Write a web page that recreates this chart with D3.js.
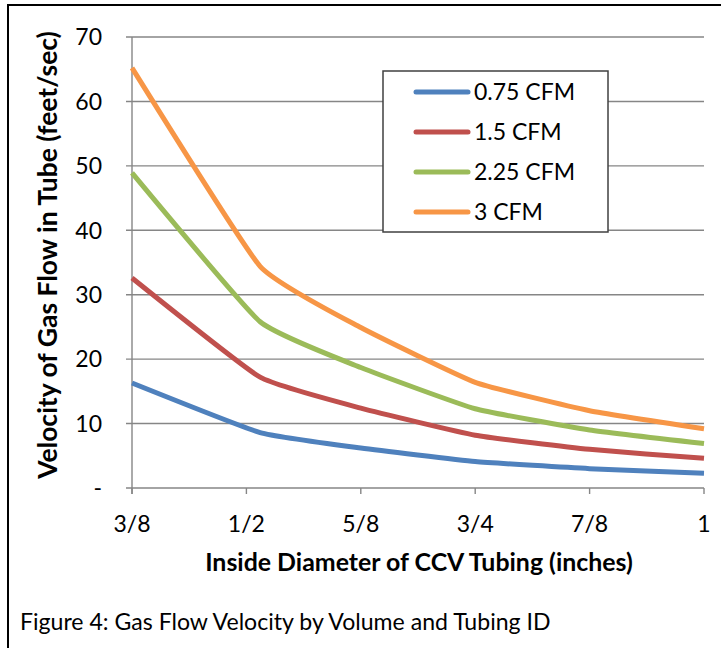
<!DOCTYPE html>
<html><head><meta charset="utf-8">
<script src="https://cdn.jsdelivr.net/npm/d3@7"></script>
<style>body{margin:0;background:#fff} svg{display:block}</style>
</head><body><svg id="c" width="721" height="648"></svg>
<script>
// ---- data ----
const diameters = [0.375, 0.515, 0.625, 0.75, 0.875, 1.0];
const seriesNames = ["0.75 CFM", "1.5 CFM", "2.25 CFM", "3 CFM"];
const cfm075 = [16.3, 8.6, 6.2, 4.1, 3.0, 2.3];
const cfm15  = [32.6, 17.2, 12.4, 8.2, 6.0, 4.6];
const cfm225 = [48.9, 25.8, 18.7, 12.3, 9.0, 6.9];
const cfm3   = [65.2, 34.4, 24.9, 16.4, 12.0, 9.2];
const xTickValues = [0.375, 0.5, 0.625, 0.75, 0.875, 1.0];
const xTickLabels = ["3/8", "1/2", "5/8", "3/4", "7/8", "1"];
const yTickValues = [0, 10, 20, 30, 40, 50, 60, 70];
const yTickLabels = ["-", "10", "20", "30", "40", "50", "60", "70"];
const colors = ["#4F81BD", "#C0504D", "#9BBB59", "#F79646"];
const xTitle = "Inside Diameter of CCV Tubing (inches)";
const yTitle = "Velocity of Gas Flow in Tube (feet/sec)";
const caption = "Figure 4: Gas Flow Velocity by Volume and Tubing ID";

const seriesValues = [cfm075, cfm15, cfm225, cfm3];
const series = seriesNames.map((n, i) => ({name: n, color: colors[i],
  pts: diameters.map((d, j) => ({d: d, v: seriesValues[i][j]}))}));

const FONT = "Lato, 'Open Sans', sans-serif";
const svg = d3.select("#c");
const W = 721, H = 648;

// outer frame
svg.append("rect").attr("x", 8).attr("y", 5).attr("width", W + 10).attr("height", H + 10)
  .attr("fill", "none").attr("stroke", "#000").attr("stroke-width", 2);

const x = d3.scaleLinear().domain([0.375, 1.0]).range([132, 704]);
const y = d3.scaleLinear().domain([0, 70]).range([488, 37]);

const gridColor = "#868686";
// gridlines
svg.append("g").selectAll("line").data(yTickValues).join("line")
  .attr("x1", 126).attr("x2", x(1.0))
  .attr("y1", d => y(d)).attr("y2", d => y(d))
  .attr("stroke", gridColor).attr("stroke-width", 1.4);

// y axis line
svg.append("line").attr("x1", x(0.375)).attr("x2", x(0.375))
  .attr("y1", y(70)).attr("y2", y(0) + 6).attr("stroke", gridColor).attr("stroke-width", 1.4);

// x ticks
svg.append("g").selectAll("line").data(xTickValues).join("line")
  .attr("x1", d => x(d)).attr("x2", d => x(d))
  .attr("y1", y(0)).attr("y2", y(0) + 6)
  .attr("stroke", gridColor).attr("stroke-width", 1.4);

// y tick labels
svg.append("g").selectAll("text").data(yTickValues).join("text")
  .attr("x", 102).attr("y", d => y(d)).attr("dy", "0.36em")
  .attr("text-anchor", "end").attr("font-family", FONT).attr("font-size", 23)
  .attr("fill", "#000").text((d, i) => yTickLabels[i]);

// x tick labels
svg.append("g").selectAll("text").data(xTickValues).join("text")
  .attr("x", d => x(d)).attr("y", 532)
  .attr("text-anchor", "middle").attr("font-family", FONT).attr("font-size", 23)
  .attr("fill", "#000").text((d, i) => xTickLabels[i]);

function fit(sel, target) {
  const len = sel.node().getComputedTextLength();
  const fs = parseFloat(sel.attr("font-size"));
  sel.attr("font-size", fs * target / len);
}

// axis titles
const xt = svg.append("text").attr("x", 419).attr("y", 571)
  .attr("text-anchor", "middle").attr("font-family", FONT).attr("font-weight", "bold")
  .attr("font-size", 20).text(xTitle);
fit(xt, 428);

const yt = svg.append("text").attr("transform", "translate(57,255) rotate(-90)")
  .attr("text-anchor", "middle").attr("font-family", FONT).attr("font-weight", "bold")
  .attr("font-size", 20).text(yTitle);
fit(yt, 448);

const cap = svg.append("text").attr("x", 20).attr("y", 630)
  .attr("font-family", FONT).attr("font-size", 20).text(caption);
fit(cap, 531);

// lines
const line = d3.line().x(p => x(p.d)).y(p => y(p.v)).curve(d3.curveCardinal.tension(0.6));
svg.append("g").selectAll("path").data(series).join("path")
  .attr("d", s => line(s.pts)).attr("fill", "none")
  .attr("stroke", s => s.color).attr("stroke-width", 5)
  .attr("stroke-linejoin", "round");

// legend
const lg = svg.append("g");
lg.append("rect").attr("x", 383).attr("y", 71).attr("width", 225).attr("height", 161)
  .attr("fill", "#fff").attr("stroke", "#404040").attr("stroke-width", 1.5);
const rows = lg.selectAll("g").data(series).join("g")
  .attr("transform", (s, i) => `translate(0,${92 + i * 40})`);
rows.append("line").attr("x1", 416).attr("x2", 468).attr("y1", 0).attr("y2", 0)
  .attr("stroke", s => s.color).attr("stroke-width", 5).attr("stroke-linecap", "round");
rows.append("text").attr("x", 474).attr("y", 0).attr("dy", "0.36em")
  .attr("font-family", FONT).attr("font-size", 23).text(s => s.name);
</script>
</body></html>
